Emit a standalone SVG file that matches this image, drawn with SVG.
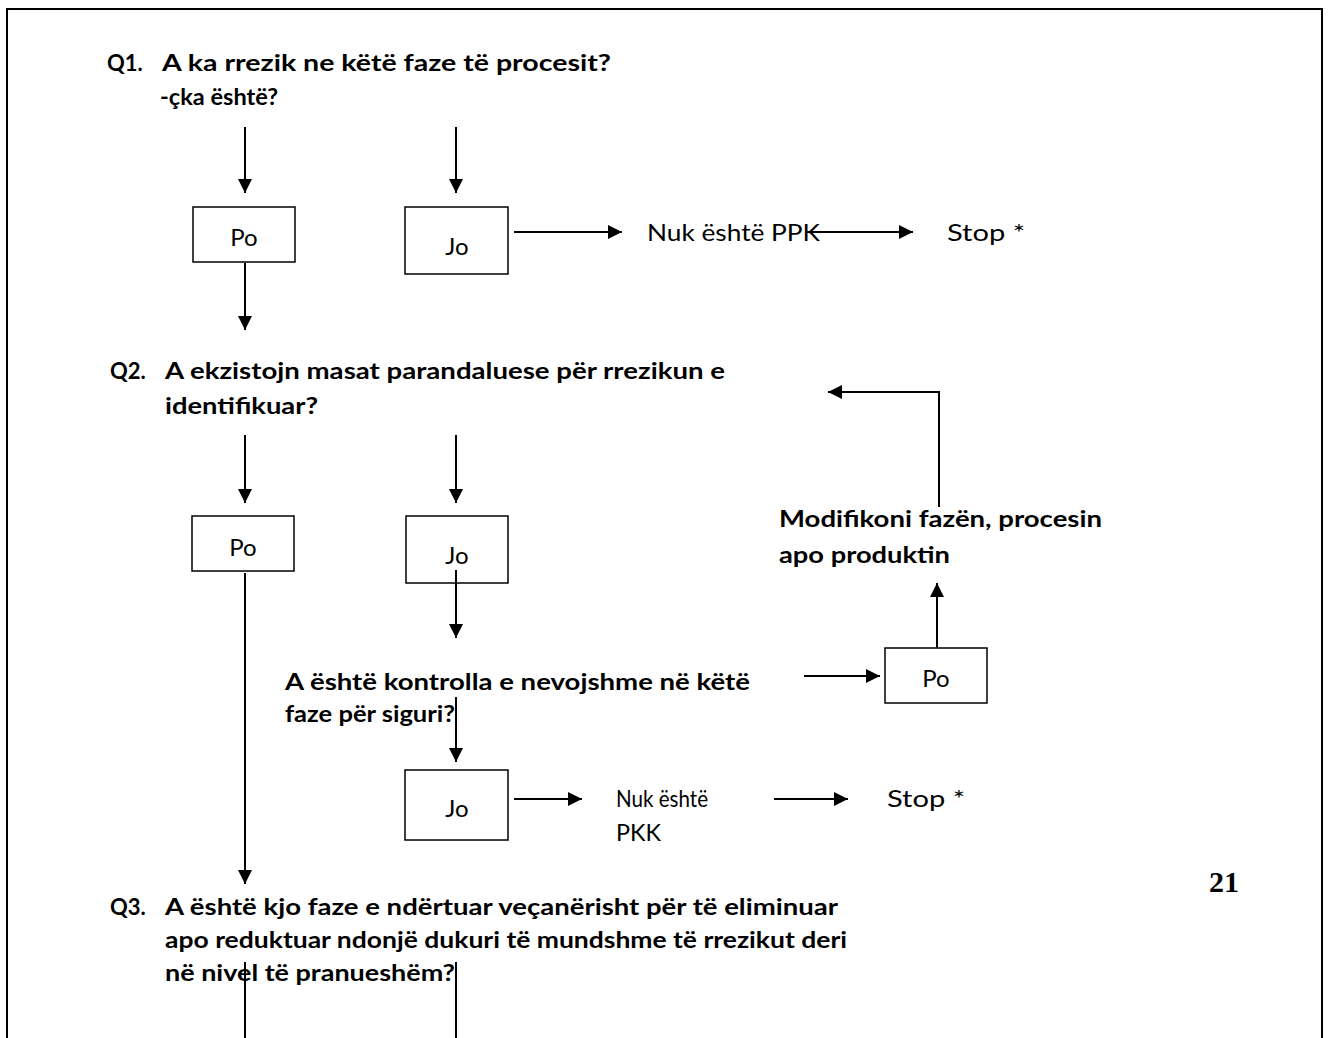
<svg xmlns="http://www.w3.org/2000/svg" width="1330" height="1038" viewBox="0 0 1330 1038">
<style>
.b{font-family:Lato,"Open Sans","Liberation Sans",sans-serif;font-weight:bold;font-size:22px;fill:#000}
.r{font-family:Lato,"Open Sans","Liberation Sans",sans-serif;font-size:24px;fill:#000}
.box{fill:#fff;stroke:#000;stroke-width:1.5}
.ln{fill:none;stroke:#000;stroke-width:2}
.pg{font-family:"Liberation Serif",serif;font-weight:bold;font-size:30px;fill:#000}
</style>
<defs>
<marker id="ah" markerUnits="userSpaceOnUse" markerWidth="14" markerHeight="14" refX="14" refY="7" orient="auto">
<path d="M0,0 L14,7 L0,14 Z" fill="#000"/>
</marker>
</defs>
<rect x="0" y="0" width="1330" height="1038" fill="#fff"/>
<path d="M7,1038 V9 H1322 V1038" fill="none" stroke="#000" stroke-width="2"/>

<g id="q1">
<text class="b" x="107" y="71">Q1.</text>
<text class="b" x="162" y="71" textLength="449" lengthAdjust="spacingAndGlyphs">A ka rrezik ne këtë faze të procesit?</text>
<text class="b" x="160" y="105" textLength="118" lengthAdjust="spacingAndGlyphs">-çka është?</text>
</g>
<g id="po1"><rect class="box" x="193" y="207" width="102" height="55"/><text class="r" x="244" y="246" text-anchor="middle">Po</text></g>
<g id="jo1"><rect class="box" x="405" y="207" width="103" height="67"/><text class="r" x="457" y="255" text-anchor="middle">Jo</text></g>
<g id="nuk1"><text class="r" x="647" y="241" textLength="173" lengthAdjust="spacingAndGlyphs">Nuk është PPK</text></g>
<g id="stop1"><text class="r" x="947" y="241" textLength="78" lengthAdjust="spacingAndGlyphs">Stop *</text></g>

<g id="q2">
<text class="b" x="110" y="379">Q2.</text>
<text class="b" x="165" y="379" textLength="560" lengthAdjust="spacingAndGlyphs">A ekzistojn masat parandaluese për rrezikun e</text>
<text class="b" x="165" y="414" textLength="153" lengthAdjust="spacingAndGlyphs">identifikuar?</text>
</g>
<g id="po2"><rect class="box" x="192" y="516" width="102" height="55"/><text class="r" x="243" y="556" text-anchor="middle">Po</text></g>
<g id="jo2"><rect class="box" x="406" y="516" width="102" height="67"/><text class="r" x="457" y="564" text-anchor="middle">Jo</text></g>
<g id="mod"><text class="b" x="779" y="527" textLength="323" lengthAdjust="spacingAndGlyphs">Modifikoni fazën, procesin</text>
<text class="b" x="779" y="563" textLength="171" lengthAdjust="spacingAndGlyphs">apo produktin</text></g>
<g id="q_ctrl"><text class="b" x="285" y="690" textLength="465" lengthAdjust="spacingAndGlyphs">A është kontrolla e nevojshme në këtë</text>
<text class="b" x="285" y="722" textLength="170" lengthAdjust="spacingAndGlyphs">faze për siguri?</text></g>
<g id="po3"><rect class="box" x="885" y="648" width="102" height="55"/><text class="r" x="936" y="687" text-anchor="middle">Po</text></g>
<g id="jo3"><rect class="box" x="405" y="770" width="103" height="70"/><text class="r" x="457" y="817" text-anchor="middle">Jo</text></g>
<g id="nuk2"><text class="r" x="616" y="807" textLength="92" lengthAdjust="spacingAndGlyphs">Nuk është</text>
<text class="r" x="616" y="841" textLength="45" lengthAdjust="spacingAndGlyphs">PKK</text></g>
<g id="stop2"><text class="r" x="887" y="807" textLength="78" lengthAdjust="spacingAndGlyphs">Stop *</text></g>
<g id="page"><text class="pg" x="1209" y="892">21</text></g>
<g id="q3">
<text class="b" x="110" y="915">Q3.</text>
<text class="b" x="165" y="915" textLength="673" lengthAdjust="spacingAndGlyphs">A është kjo faze e ndërtuar veçanërisht për të eliminuar</text>
<text class="b" x="165" y="948" textLength="682" lengthAdjust="spacingAndGlyphs">apo reduktuar ndonjë dukuri të mundshme të rrezikut deri</text>
<text class="b" x="165" y="981" textLength="290" lengthAdjust="spacingAndGlyphs">në nivel të pranueshëm?</text>
</g>

<g id="connectors">
<path class="ln" d="M245,127 V193" marker-end="url(#ah)"/>
<path class="ln" d="M456,127 V193" marker-end="url(#ah)"/>
<path class="ln" d="M514,232 H622" marker-end="url(#ah)"/>
<path class="ln" d="M808,232 H913" marker-end="url(#ah)"/>
<path class="ln" d="M245,263 V330" marker-end="url(#ah)"/>
<path class="ln" d="M245,435 V503" marker-end="url(#ah)"/>
<path class="ln" d="M456,435 V503" marker-end="url(#ah)"/>
<path class="ln" d="M456,570 V638" marker-end="url(#ah)"/>
<path class="ln" d="M245,573 V884" marker-end="url(#ah)"/>
<path class="ln" d="M456,697 V762" marker-end="url(#ah)"/>
<path class="ln" d="M514,799 H582" marker-end="url(#ah)"/>
<path class="ln" d="M774,799 H848" marker-end="url(#ah)"/>
<path class="ln" d="M804,676 H880" marker-end="url(#ah)"/>
<path class="ln" d="M937,648 V583" marker-end="url(#ah)"/>
<path class="ln" d="M939,507 V392 H828" marker-end="url(#ah)"/>
<path class="ln" d="M245,962 V1038"/>
<path class="ln" d="M456,962 V1038"/>
</g>
</svg>
